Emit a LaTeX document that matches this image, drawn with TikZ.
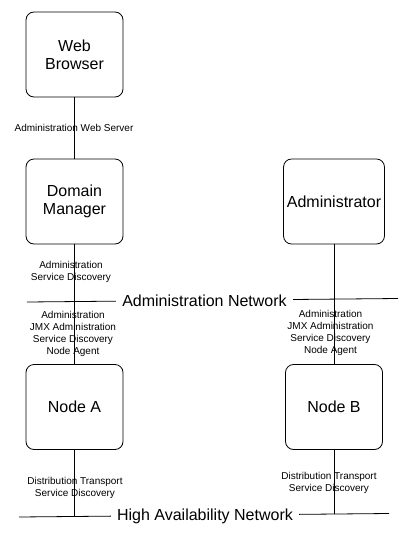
\documentclass[tikz,border=0pt]{standalone}
\usepackage{fontspec}
\setmainfont{Liberation Sans}
\tikzset{
        box/.style={draw=black, line width=0.8pt, rounded corners=8pt, minimum width=97pt, minimum height=85pt, align=center, font=\fontsize{16}{18}\selectfont},
        proto/.style={align=center, font=\fontsize{10}{12}\selectfont, inner sep=0pt},
        netlabel/.style={fill=white, inner xsep=6pt, inner ysep=1pt, font=\fontsize{16}{18}\selectfont},
        wire/.style={line width=0.8pt}
          }
\begin{document}
\begin{tikzpicture}[x=1pt, y=-1pt]
        \useasboundingbox (0,0) rectangle (410,541);
        \node[box] (browser) at (74.5,54.5) {Web\\Browser};
        \node[box] (dm) at (74.5,201.5) {Domain\\Manager};
        \node[box] (admin) at (334,201.5) {Administrator};
        \node[box] (nodea) at (74.5,407) {Node A};
        \node[box] (nodeb) at (334,407) {Node B};
        % networks
        \coordinate (an1) at (27,302);
        \coordinate (an2) at (398,298.5);
        \coordinate (ha1) at (19,517);
        \coordinate (ha2) at (389,513.5);
        \draw[wire] (an1) -- (an2);
        \draw[wire] (ha1) -- (ha2);
        \node[netlabel] (adminnet) at (204.5,301) {Administration Network};
        \node[netlabel] (hanet) at (205,516) {High Availability Network};
        % links
        \draw[wire] (browser) -- (dm);
        \draw[wire] (dm) -- (nodea);
        \draw[wire] (admin) -- (nodeb);
        \draw[wire] (nodea.south) -- (nodea.south |- ha1);
        \draw[wire] (nodeb.south) -- (nodeb.south |- ha2);
        % protocols
        \node[proto] (webproto) at (74,128) {Administration Web Server};
        \node[proto] (dmproto) at (71,271.5) {Administration\\Service Discovery};
        \node[proto] (aproto) at (73,334) {Administration\\JMX Administration\\Service Discovery\\Node Agent};
        \node[proto] (bproto) at (330.5,333) {Administration\\JMX Administration\\Service Discovery\\Node Agent};
        \node[proto] (ahaproto) at (75,487.5) {Distribution Transport\\Service Discovery};
        \node[proto] (bhaproto) at (329,483) {Distribution Transport\\Service Discovery};
      \end{tikzpicture}
\end{document}
